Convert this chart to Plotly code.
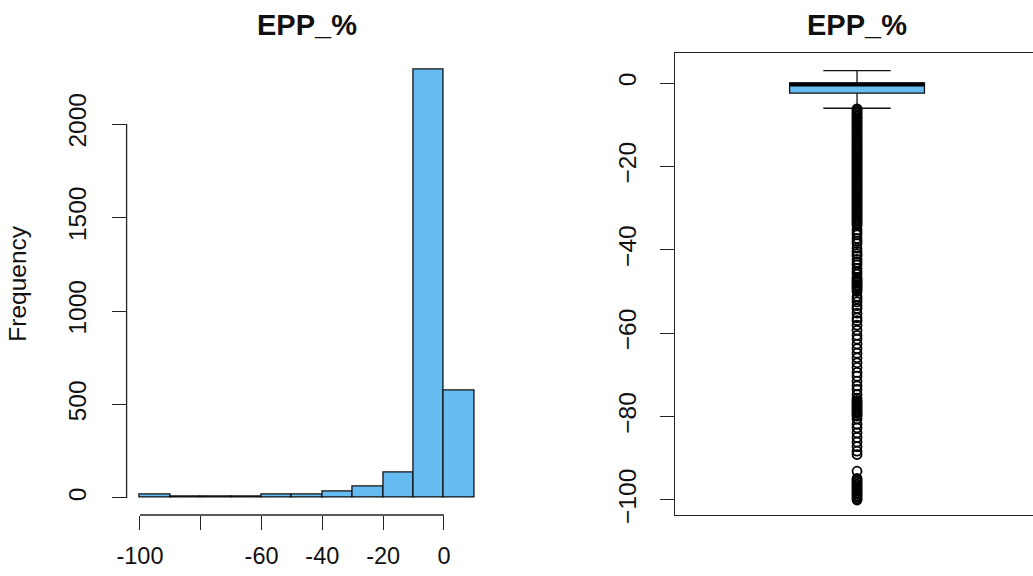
import plotly.graph_objects as go

# ---------------- data ----------------
bin_left = [-100, -90, -80, -70, -60, -50, -40, -30, -20, -10, 0]
bin_width = 10
counts = [20, 5, 5, 5, 18, 18, 35, 59, 134, 2290, 572]

hist_xtick_vals = [-100, -80, -60, -40, -20, 0]
hist_xtick_text = ["-100", "", "-60", "-40", "-20", "0"]
hist_ytick_vals = [0, 500, 1000, 1500, 2000]
box_ytick_vals = [0, -20, -40, -60, -80, -100]

box_q1 = -2.45
box_median = -0.35
box_q3 = 0.0
box_low = -6.05
box_high = 2.95

outliers = [
    -6.2, -6.5, -6.9, -7.2, -7.6, -7.9, -8.3, -8.6, -9.0, -9.3, -9.7, -10.0,
    -10.4, -10.7, -11.1, -11.4, -11.8, -12.1, -12.5, -12.8, -13.2, -13.5, -13.9,
    -14.2, -14.6, -14.9, -15.3, -15.6, -16.0, -16.3, -16.7, -17.0, -17.4, -17.7,
    -18.1, -18.4, -18.8, -19.1, -19.5, -19.8, -20.2, -20.5, -20.9, -21.2, -21.6,
    -21.9, -22.3, -22.6, -23.0, -23.3, -23.7, -24.0, -24.4, -24.7, -25.1, -25.4,
    -25.8, -26.1, -26.5, -26.8, -27.2, -27.5, -27.9, -28.2, -28.6, -28.9, -29.3,
    -29.6, -30.0, -30.3, -30.7, -31.0, -31.4, -31.7, -32.1, -32.4, -32.8, -33.1,
    -33.5, -33.8, -34.2,
    -35.2, -35.8, -36.4, -37.3, -37.9, -38.5, -39.6, -40.4, -41.0, -41.5, -42.3,
    -43.0, -43.6, -44.5, -45.2, -45.8, -46.6,
    -47.0, -47.3, -47.7, -48.0, -48.4, -48.7, -49.1, -49.5, -50.0,
    -51.2, -51.8, -52.5, -53.4, -54.1, -55.2, -56.3, -57.0, -58.1,
    -59.3, -60.5, -61.4, -62.6, -63.7, -64.8, -65.9, -67.1,
    -68.2, -69.4, -70.3, -71.5, -72.6, -73.5, -74.7, -75.6,
    -76.1, -76.4, -76.8, -77.1, -77.5, -77.8, -78.2, -78.5, -78.9, -79.2, -79.6,
    -79.9, -80.6, -81.8, -82.7, -83.9, -85.0, -86.1, -87.2, -88.3, -89.1,
    -93.1,
    -94.8, -95.1, -95.5, -95.8, -96.2, -96.5, -96.9, -97.2, -97.6, -97.9, -98.3,
    -98.6, -99.0, -99.3, -99.7, -100.0,
]

title_text = "EPP_%"

# ---------------- styling ----------------
W, H = 1033, 576
BAR = "#66BBF0"
FONT = "Liberation Sans, Arial, sans-serif"
XTICKF = 23.5
YTICKF = 24.5

def px_x(p):
    return p / W

def px_y(p):
    return 1 - p / H

fig = go.Figure()

fig.add_trace(go.Bar(
    x=[b + bin_width / 2 for b in bin_left], y=counts, width=bin_width,
    marker=dict(color=BAR, line=dict(color="#111", width=1.3)),
    xaxis="x", yaxis="y", showlegend=False, hoverinfo="x+y",
))

box_x = 1.0
box_w = 0.4
fig.add_trace(go.Box(
    x=[box_x], q1=[box_q1], median=[box_median], q3=[box_q3],
    lowerfence=[box_low], upperfence=[box_high],
    width=box_w, whiskerwidth=0.5, boxpoints=False,
    fillcolor=BAR, line=dict(color="#111", width=1.3),
    xaxis="x2", yaxis="y2", showlegend=False,
))
fig.add_trace(go.Scatter(
    x=[box_x - box_w / 2, box_x + box_w / 2], y=[box_median, box_median],
    mode="lines", line=dict(color="black", width=4),
    xaxis="x2", yaxis="y2", showlegend=False, hoverinfo="skip",
))
fig.add_trace(go.Scatter(
    x=[box_x] * len(outliers), y=outliers, mode="markers",
    marker=dict(symbol="circle-open", size=9, color="black", line=dict(width=1.8)),
    xaxis="x2", yaxis="y2", showlegend=False,
))

dom_y = [px_y(515), px_y(52.6)]
tick_common = dict(
    ticks="outside", ticklen=14, tickwidth=1.2, tickcolor="#222",
    showgrid=False, zeroline=False, automargin=False,
)

fig.update_layout(
    width=W, height=H,
    margin=dict(l=0, r=0, t=0, b=0),
    plot_bgcolor="white", paper_bgcolor="white",
    bargap=0,
    xaxis=dict(domain=[px_x(126.6), px_x(487.7)], range=[-104.4, 14.4], anchor="y",
               tickvals=hist_xtick_vals, ticktext=hist_xtick_text,
               ticklabelstandoff=6, showline=False,
               tickfont=dict(family=FONT, size=XTICKF, color="#111"), **tick_common),
    yaxis=dict(domain=dom_y, range=[-91, 2382], anchor="x",
               tickvals=hist_ytick_vals, tickangle=-90, ticklabelstandoff=16,
               showline=False,
               tickfont=dict(family=FONT, size=YTICKF, color="#111"),
               title=dict(text="Frequency", font=dict(family=FONT, size=24.5, color="#111"),
                          standoff=30),
               **tick_common),
    xaxis2=dict(domain=[px_x(675), 1.0], range=[0.46, 1.522], anchor="y2",
                showticklabels=False, ticks="", showgrid=False, zeroline=False,
                automargin=False,
                showline=True, mirror=True, linecolor="#222", linewidth=1.3),
    yaxis2=dict(domain=dom_y, range=[-103.6, 7.29], anchor="x2",
                tickvals=box_ytick_vals, tickangle=-90, ticklabelstandoff=14,
                showline=True, linecolor="#222", linewidth=1.3,
                tickfont=dict(family=FONT, size=YTICKF, color="#111"),
                **tick_common),
    shapes=[
        dict(type="line", xref="x domain", yref="y", x0=0, x1=0, y0=0, y1=2000,
             line=dict(color="#222", width=1.3)),
        dict(type="line", xref="x", yref="y domain", x0=-100, x1=0, y0=0, y1=0,
             line=dict(color="#222", width=1.3)),
    ],
    annotations=[
        dict(text="<b>%s</b>" % title_text, xref="x domain", yref="paper",
             x=0.5, y=px_y(25), xanchor="center", yanchor="middle", showarrow=False,
             font=dict(family=FONT, size=29, color="#111")),
        dict(text="<b>%s</b>" % title_text, xref="x2", yref="paper",
             x=box_x, y=px_y(25), xanchor="center", yanchor="middle", showarrow=False,
             font=dict(family=FONT, size=29, color="#111")),
    ],
)

fig.write_html("out.html", config={"displayModeBar": False},
               post_script="document.body.style.margin='0';document.body.style.padding='0';")
